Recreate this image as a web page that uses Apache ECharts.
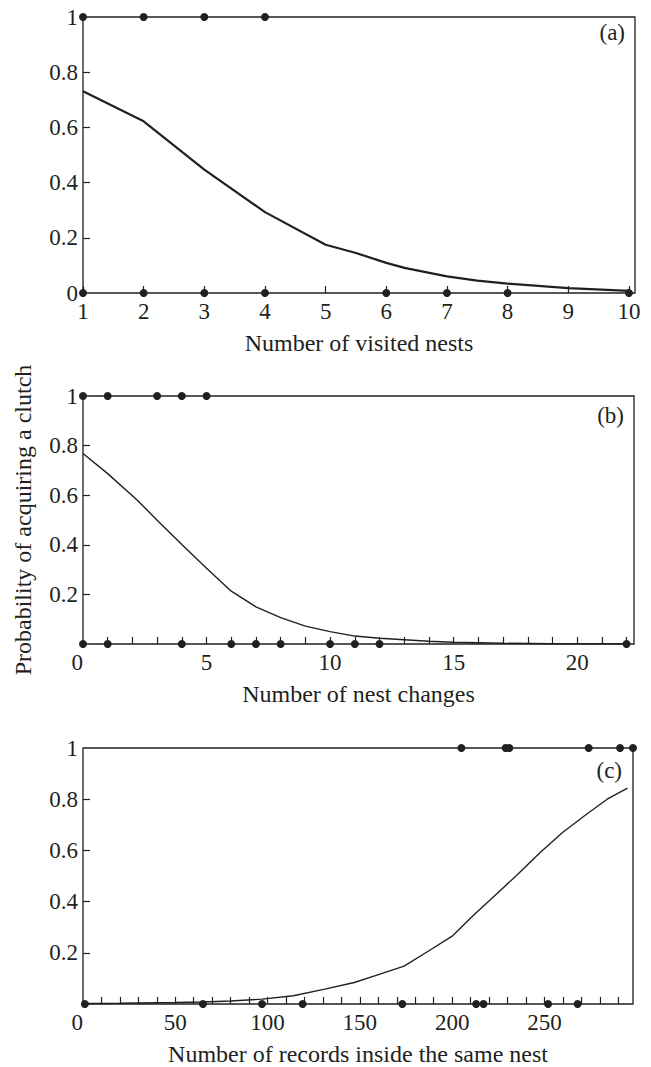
<!DOCTYPE html>
<html>
<head>
<meta charset="utf-8">
<script src="https://cdn.jsdelivr.net/npm/echarts@6/dist/echarts.min.js"></script>
<style>
  html, body { margin: 0; padding: 0; background: #fff; }
  #chart { width: 651px; height: 1067px; }
</style>
</head>
<body>
<div id="chart"></div>
<script>
// panel (a): number of visited nests
const curveA = [[1, 0.731], [2, 0.622], [3, 0.447], [4, 0.293], [5, 0.175], [5.5, 0.145], [6, 0.109],
  [6.3, 0.091], [7, 0.060], [7.5, 0.045], [8, 0.034], [9, 0.018], [10, 0.008]]
const dotsATop = [1, 2, 3, 4]
const dotsABottom = [1, 2, 3, 4, 6, 7, 8, 10]

// panel (b): number of nest changes
const curveB = [[0, 0.768], [1, 0.687], [2.2, 0.58], [3, 0.499], [4, 0.401], [5, 0.305], [6, 0.213],
  [7, 0.15], [8, 0.106], [9, 0.072], [10, 0.05], [11, 0.032], [12, 0.023], [14, 0.011], [15, 0.007],
  [17, 0.003], [19, 0.001], [22, 0.001]]
const dotsBTop = [0, 1, 3, 4, 5]
const dotsBBottom = [0, 1, 4, 6, 7, 8, 10, 11, 12, 22]

// panel (c): number of records inside the same nest
const curveC = [[1, 0.002], [20, 0.003], [50, 0.006], [65, 0.008], [80, 0.012], [97, 0.019], [114, 0.032],
  [131, 0.058], [147, 0.084], [158, 0.11], [174, 0.148], [187, 0.206], [200, 0.265], [212, 0.35],
  [223.5, 0.426], [235, 0.503], [248, 0.594], [260, 0.671], [273, 0.742], [284, 0.8], [295, 0.843]]
const dotsCTop = [205, 229, 231, 274, 291, 298]
const dotsCBottom = [1, 65, 97, 119, 173, 213, 217, 252, 268]

// ticks and labels
const ticksAX = [1, 2, 3, 4, 5, 6, 7, 8, 9, 10]
const labelsAX = [1, 2, 3, 4, 5, 6, 7, 8, 9, 10]
const ticksBX = [1, 2, 3, 4, 5, 6, 7, 8, 9, 10, 11, 12, 13, 14, 15, 16, 17, 18, 19, 20, 21, 22]
const labelsBX = [0, 5, 10, 15, 20]
const ticksCX = [10, 20, 30, 40, 50, 60, 70, 80, 90, 100, 110, 120, 130, 140, 150, 160, 170, 180, 190,
  200, 210, 220, 230, 240, 250, 260, 270, 280, 290]
const labelsCX = [0, 50, 100, 150, 200, 250]
const ticksY = [0.2, 0.4, 0.6, 0.8]
const labelsYA = [0, 0.2, 0.4, 0.6, 0.8, 1]
const labelsYBC = [0.2, 0.4, 0.6, 0.8, 1]

const ink = '#231f20'
const serif = 'Liberation Serif'

const chart = echarts.init(document.getElementById('chart'), null, { renderer: 'svg' })

function xAxis(idx, min, max, ticks, labels, name, alignMin) {
  return {
    type: 'value', gridIndex: idx, min: min, max: max,
    axisLine: { show: false },
    splitLine: { show: false },
    axisTick: { inside: true, length: 7, lineStyle: { color: ink, width: 1.2 }, customValues: ticks },
    axisLabel: {
      customValues: labels, margin: 7, color: ink, fontFamily: serif, fontSize: 23,
      alignMinLabel: alignMin,
    },
    name: name, nameLocation: 'middle', nameGap: 38,
    nameTextStyle: { color: ink, fontFamily: serif, fontSize: 24 },
  }
}

function yAxis(idx, labels, name) {
  return {
    type: 'value', gridIndex: idx, min: 0, max: 1,
    axisLine: { show: false },
    splitLine: { show: false },
    axisTick: { inside: true, length: 7, lineStyle: { color: ink, width: 1.2 }, customValues: ticksY },
    axisLabel: { customValues: labels, margin: 5, color: ink, fontFamily: serif, fontSize: 23 },
    name: name, nameLocation: 'middle', nameGap: 48, nameRotate: 90,
    nameTextStyle: { color: ink, fontFamily: serif, fontSize: 24 },
  }
}

function curve(idx, data, width) {
  return {
    type: 'line', xAxisIndex: idx, yAxisIndex: idx, data: data,
    showSymbol: false, smooth: false, clip: false,
    lineStyle: { color: ink, width: width }, silent: true,
  }
}

function dots(idx, xs, y) {
  return {
    type: 'scatter', xAxisIndex: idx, yAxisIndex: idx, clip: false,
    data: xs.map(x => [x, y]),
    symbolSize: 8, itemStyle: { color: ink, opacity: 1 }, z: 5, silent: true,
  }
}

const frame = { show: true, borderColor: ink, borderWidth: 1.3, backgroundColor: 'transparent' }

chart.setOption({
  animation: false,
  grid: [
    Object.assign({ left: 83, top: 17, width: 552, height: 276 }, frame),
    Object.assign({ left: 83, top: 396, width: 551, height: 248 }, frame),
    Object.assign({ left: 83, top: 748, width: 550, height: 258 }, frame),
  ],
  xAxis: [
    xAxis(0, 1, 10.1, ticksAX, labelsAX, 'Number of visited nests', 'center'),
    xAxis(1, 0, 22.3, ticksBX, labelsBX, 'Number of nest changes', 'right'),
    xAxis(2, 0, 298, ticksCX, labelsCX, 'Number of records inside the same nest', 'right'),
  ],
  yAxis: [
    yAxis(0, labelsYA, ''),
    yAxis(1, labelsYBC, 'Probability of acquiring a clutch'),
    yAxis(2, labelsYBC, ''),
  ],
  graphic: [
    { type: 'text', x: 625, y: 32, style: { text: '(a)', font: '23px Liberation Serif', fill: ink, align: 'right', verticalAlign: 'middle' } },
    { type: 'text', x: 624, y: 415, style: { text: '(b)', font: '23px Liberation Serif', fill: ink, align: 'right', verticalAlign: 'middle' } },
    { type: 'text', x: 622, y: 770, style: { text: '(c)', font: '23px Liberation Serif', fill: ink, align: 'right', verticalAlign: 'middle' } },
  ],
  series: [
    curve(0, curveA, 2.2),
    dots(0, dotsATop, 1),
    dots(0, dotsABottom, 0),
    curve(1, curveB, 1.4),
    dots(1, dotsBTop, 1),
    dots(1, dotsBBottom, 0),
    curve(2, curveC, 1.4),
    dots(2, dotsCTop, 1),
    dots(2, dotsCBottom, 0),
  ],
})
</script>
</body>
</html>
